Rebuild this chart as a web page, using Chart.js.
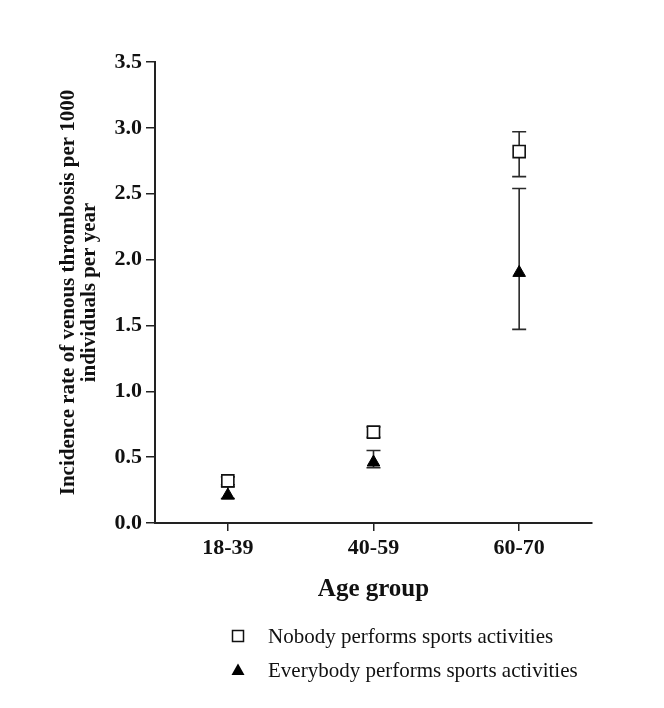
<!DOCTYPE html>
<html>
<head>
<meta charset="utf-8">
<script src="https://cdn.jsdelivr.net/npm/chart.js@4"></script>
<style>
  html, body { margin: 0; padding: 0; background: #ffffff; }
  #wrap { width: 664px; height: 708px; }
</style>
</head>
<body>
<div id="wrap"><canvas id="rateChart" width="664" height="708"></canvas></div>
<script>
// data
const ageGroups = ['18-39', '40-59', '60-70'];
const seriesNames = ['Nobody performs sports activities', 'Everybody performs sports activities'];
const nobodyRate = [0.32, 0.69, 2.82];
const nobodyLow = [0.29, 0.65, 2.63];
const nobodyHigh = [0.35, 0.73, 2.97];
const everybodyRate = [0.21, 0.46, 1.90];
const everybodyLow = [0.185, 0.42, 1.47];
const everybodyHigh = [0.275, 0.55, 2.54];
const yTicks = [0, 0.5, 1.0, 1.5, 2.0, 2.5, 3.0, 3.5];

const serif = "'Liberation Serif', 'Times New Roman', serif";
const ink = '#222';

// error bars, drawn under the markers
const errorBars = {
  id: 'errorBars',
  beforeDatasetsDraw(chart) {
    const ctx = chart.ctx;
    const x = chart.scales.x, y = chart.scales.y;
    const ranges = [[nobodyLow, nobodyHigh], [everybodyLow, everybodyHigh]];
    ctx.save();
    ctx.strokeStyle = '#2a2a2a';
    ctx.lineWidth = 1.6;
    ranges.forEach(([lo, hi]) => {
      ageGroups.forEach((g, i) => {
        const px = x.getPixelForValue(i);
        const top = y.getPixelForValue(hi[i]);
        const bot = y.getPixelForValue(lo[i]);
        ctx.beginPath();
        ctx.moveTo(px, top); ctx.lineTo(px, bot);
        ctx.moveTo(px - 7, top); ctx.lineTo(px + 7, top);
        ctx.moveTo(px - 7, bot); ctx.lineTo(px + 7, bot);
        ctx.stroke();
      });
    });
    ctx.restore();
  }
};

// legend stacked in a column under the plot
const columnLegend = {
  id: 'columnLegend',
  afterDraw(chart) {
    const ctx = chart.ctx;
    ctx.save();
    ctx.font = '21px ' + serif;
    ctx.textBaseline = 'middle';
    chart.data.datasets.forEach((ds, i) => {
      const cy = 636 + i * 34;
      const cx = 238;
      ctx.beginPath();
      if (ds.pointStyle === 'rect') {
        ctx.fillStyle = '#fff';
        ctx.strokeStyle = '#111';
        ctx.lineWidth = 1.5;
        ctx.rect(cx - 5.5, cy - 5.5, 11, 11);
        ctx.fill(); ctx.stroke();
      } else {
        ctx.fillStyle = '#000';
        ctx.moveTo(cx, cy - 6.5);
        ctx.lineTo(cx + 6.5, cy + 5);
        ctx.lineTo(cx - 6.5, cy + 5);
        ctx.closePath();
        ctx.fill();
      }
      ctx.fillStyle = '#111';
      ctx.fillText(ds.label, 268, cy + 1);
    });
    ctx.restore();
  }
};

new Chart(document.getElementById('rateChart'), {
  type: 'line',
  data: {
    labels: ageGroups,
    datasets: [
      {
        label: seriesNames[0],
        data: nobodyRate,
        showLine: false,
        pointStyle: 'rect',
        pointRadius: 8.5,
        pointHoverRadius: 8.5,
        pointBackgroundColor: '#fff',
        pointBorderColor: '#111',
        pointBorderWidth: 1.6
      },
      {
        label: seriesNames[1],
        data: everybodyRate,
        showLine: false,
        pointStyle: 'triangle',
        pointRadius: 7.3,
        pointHoverRadius: 7.3,
        pointBackgroundColor: '#000',
        pointBorderColor: '#000',
        pointBorderWidth: 1
      }
    ]
  },
  options: {
    responsive: false,
    animation: false,
    events: [],
    layout: { padding: { left: 46, right: 72, top: 62, bottom: 95 } },
    plugins: { legend: { display: false }, tooltip: { enabled: false } },
    scales: {
      x: {
        offset: true,
        afterFit(scale) { scale.height = 90; },
        grid: { drawOnChartArea: false, tickLength: 8, color: ink, lineWidth: 1.5, offset: false },
        border: { color: ink, width: 2 },
        ticks: { color: '#111', padding: 4, font: { family: serif, size: 22, weight: 'bold' } },
        title: {
          display: true,
          text: 'Age group',
          color: '#111',
          padding: { top: 0, bottom: 8 },
          font: { family: serif, size: 25, weight: 'bold' }
        }
      },
      y: {
        min: 0,
        max: 3.5,
        afterFit(scale) { scale.width = 109; },
        afterBuildTicks(scale) { scale.ticks = yTicks.map(v => ({ value: v })); },
        grid: { drawOnChartArea: false, tickLength: 9, color: ink, lineWidth: 1.5 },
        border: { color: ink, width: 2 },
        ticks: {
          color: '#111',
          padding: 4,
          font: { family: serif, size: 22, weight: 'bold' },
          callback: v => Number(v).toFixed(1)
        },
        title: {
          display: true,
          text: ['Incidence rate of venous thrombosis per 1000', 'individuals per year'],
          color: '#111',
          padding: { top: 12, bottom: 0 },
          font: { family: serif, size: 21, weight: 'bold', lineHeight: 1.0 }
        }
      }
    }
  },
  plugins: [errorBars, columnLegend]
});
</script>
</body>
</html>
